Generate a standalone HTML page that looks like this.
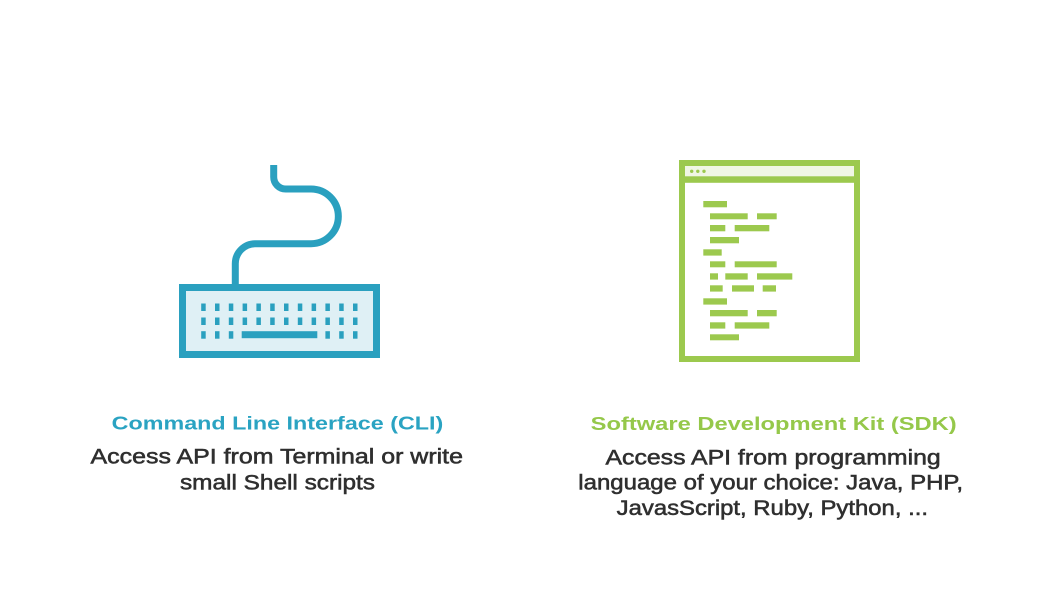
<!DOCTYPE html>
<html>
<head>
<meta charset="utf-8">
<style>
html,body{margin:0;padding:0;background:#fff;}
body{width:1050px;height:590px;overflow:hidden;}
svg{display:block;}
</style>
</head>
<body>
<svg width="1050" height="590" viewBox="0 0 1050 590" xmlns="http://www.w3.org/2000/svg">
<rect width="1050" height="590" fill="#ffffff"/>

<!-- Keyboard icon -->
<g fill="none" stroke="#2aa0bf" stroke-width="7">
  <path d="M273.7,165 V177 A12,12 0 0 0 285.7,189 H311 A27.35,27.35 0 0 1 311,243.7 H255.3 A20,20 0 0 0 235.3,263.7 V286"/>
  <rect x="182.5" y="287.5" width="194" height="67" fill="#dff0f5"/>
</g>
<g fill="#2aa0bf">
  <!-- row 1 -->
  <rect x="201.2" y="303.5" width="4.5" height="7.5"/>
  <rect x="215" y="303.5" width="4.5" height="7.5"/>
  <rect x="228.8" y="303.5" width="4.5" height="7.5"/>
  <rect x="242.6" y="303.5" width="4.5" height="7.5"/>
  <rect x="256.4" y="303.5" width="4.5" height="7.5"/>
  <rect x="270.2" y="303.5" width="4.5" height="7.5"/>
  <rect x="284" y="303.5" width="4.5" height="7.5"/>
  <rect x="297.8" y="303.5" width="4.5" height="7.5"/>
  <rect x="311.6" y="303.5" width="4.5" height="7.5"/>
  <rect x="325.4" y="303.5" width="4.5" height="7.5"/>
  <rect x="339.2" y="303.5" width="4.5" height="7.5"/>
  <rect x="353" y="303.5" width="4.5" height="7.5"/>
  <!-- row 2 -->
  <rect x="201.2" y="317.5" width="4.5" height="7.5"/>
  <rect x="215" y="317.5" width="4.5" height="7.5"/>
  <rect x="228.8" y="317.5" width="4.5" height="7.5"/>
  <rect x="242.6" y="317.5" width="4.5" height="7.5"/>
  <rect x="256.4" y="317.5" width="4.5" height="7.5"/>
  <rect x="270.2" y="317.5" width="4.5" height="7.5"/>
  <rect x="284" y="317.5" width="4.5" height="7.5"/>
  <rect x="297.8" y="317.5" width="4.5" height="7.5"/>
  <rect x="311.6" y="317.5" width="4.5" height="7.5"/>
  <rect x="325.4" y="317.5" width="4.5" height="7.5"/>
  <rect x="339.2" y="317.5" width="4.5" height="7.5"/>
  <rect x="353" y="317.5" width="4.5" height="7.5"/>
  <!-- row 3 -->
  <rect x="201.2" y="331.2" width="4.5" height="7.5"/>
  <rect x="215" y="331.2" width="4.5" height="7.5"/>
  <rect x="228.8" y="331.2" width="4.5" height="7.5"/>
  <rect x="241.7" y="331.2" width="75.6" height="7"/>
  <rect x="325.4" y="331.2" width="4.5" height="7.5"/>
  <rect x="339.2" y="331.2" width="4.5" height="7.5"/>
  <rect x="353" y="331.2" width="4.5" height="7.5"/>
</g>

<!-- SDK window icon -->
<rect x="682" y="163" width="175" height="196" fill="#ffffff" stroke="#9cc94e" stroke-width="6"/>
<rect x="685" y="166" width="169" height="10.5" fill="#f0f6e4"/>
<rect x="685" y="176.3" width="169" height="6.5" fill="#9cc94e"/>
<g fill="#9cc94e">
  <circle cx="691.7" cy="171.3" r="1.7"/>
  <circle cx="697.8" cy="171.3" r="1.7"/>
  <circle cx="704" cy="171.3" r="1.7"/>

  <rect x="703.3" y="201" width="23.7" height="6.3"/>

  <rect x="710" y="213.3" width="37.7" height="6"/>
  <rect x="757" y="213.3" width="19.7" height="6"/>

  <rect x="710" y="225" width="15.3" height="6.3"/>
  <rect x="734.7" y="225" width="34.6" height="6.3"/>

  <rect x="710" y="237" width="29" height="6.3"/>

  <rect x="703.3" y="249.3" width="18.4" height="6.3"/>

  <rect x="710" y="261.3" width="15.3" height="6"/>
  <rect x="734.7" y="261.3" width="42" height="6"/>

  <rect x="710" y="273.3" width="8" height="6.3"/>
  <rect x="725.3" y="273.3" width="22.4" height="6.3"/>
  <rect x="757" y="273.3" width="35.3" height="6.3"/>

  <rect x="710" y="285.3" width="12.7" height="6.3"/>
  <rect x="732" y="285.3" width="22" height="6.3"/>
  <rect x="762.7" y="285.3" width="13.3" height="6.3"/>

  <rect x="703.3" y="298.3" width="23.7" height="6.3"/>

  <rect x="710" y="310" width="37.7" height="6.3"/>
  <rect x="757" y="310" width="19.7" height="6.3"/>

  <rect x="710" y="322.3" width="15.3" height="6.3"/>
  <rect x="734.7" y="322.3" width="34.6" height="6.3"/>

  <rect x="710" y="334.3" width="29" height="6"/>
</g>

<!-- Texts -->
<g font-family="'Liberation Sans', sans-serif">
  <text x="111.7" y="429.5" font-size="18.5" font-weight="bold" fill="#2aa3c2" textLength="331.6" lengthAdjust="spacingAndGlyphs">Command Line Interface (CLI)</text>
  <text x="90.5" y="463.5" font-size="21" fill="#2f2f2f" stroke="#2f2f2f" stroke-width="0.55" textLength="372.5" lengthAdjust="spacingAndGlyphs">Access API from Terminal or write</text>
  <text x="180" y="489.3" font-size="21" fill="#2f2f2f" stroke="#2f2f2f" stroke-width="0.55" textLength="195" lengthAdjust="spacingAndGlyphs">small Shell scripts</text>

  <text x="590.7" y="430" font-size="18.5" font-weight="bold" fill="#95c84a" textLength="366" lengthAdjust="spacingAndGlyphs">Software Development Kit (SDK)</text>
  <text x="605.5" y="464.3" font-size="21" fill="#2f2f2f" stroke="#2f2f2f" stroke-width="0.55" textLength="335.2" lengthAdjust="spacingAndGlyphs">Access API from programming</text>
  <text x="578.3" y="489.5" font-size="21" fill="#2f2f2f" stroke="#2f2f2f" stroke-width="0.55" textLength="384.7" lengthAdjust="spacingAndGlyphs">language of your choice: Java, PHP,</text>
  <text x="616.7" y="515" font-size="21" fill="#2f2f2f" stroke="#2f2f2f" stroke-width="0.55" textLength="311.3" lengthAdjust="spacingAndGlyphs">JavasScript, Ruby, Python, ...</text>
</g>
</svg>
</body>
</html>
